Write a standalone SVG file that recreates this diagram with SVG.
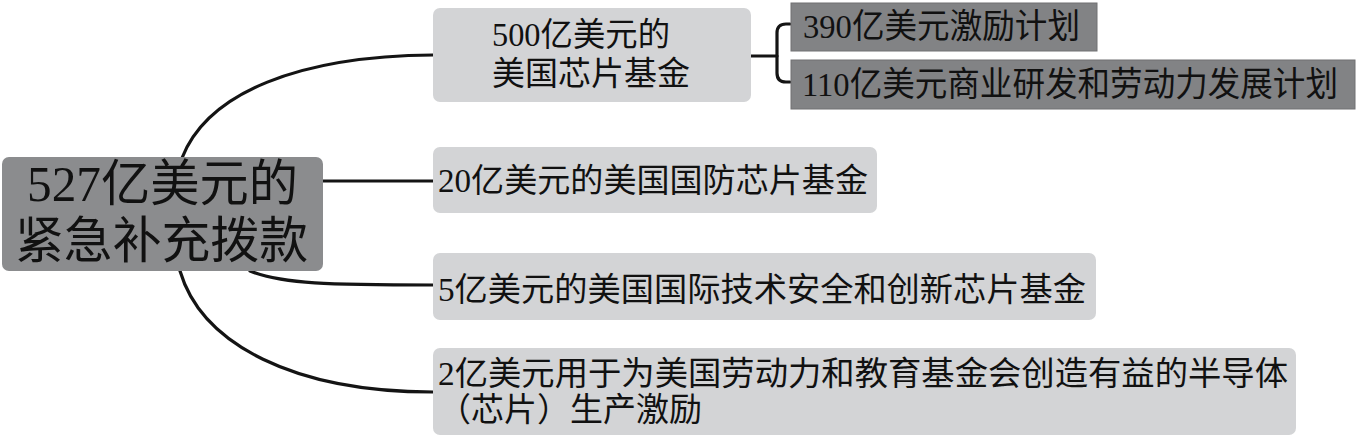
<svg xmlns="http://www.w3.org/2000/svg" width="1360" height="440" viewBox="0 0 1360 440">
  <style>
    .root { fill: #8b8c8e; }
    .light { fill: #d3d4d6; }
    .dark { fill: #828385; stroke: #707173; stroke-width: 1; }
    .t { font-family: "Liberation Serif", "Noto Sans CJK SC", serif; fill: #111111; }
    .t50 { font-size: 50px; }
    .t33 { font-size: 33px; }
    .t34 { font-size: 34px; }
    .conn { fill: none; stroke: #141414; stroke-width: 3.2; stroke-linecap: round; }
  </style>
  <rect width="1360" height="440" fill="#ffffff"/>

  <g id="connectors">
    <path class="conn" d="M182,158 C208,92 300,56 433,55"/>
    <path class="conn" d="M323,181 H433"/>
    <path class="conn" d="M250,271 C282,284 330,285 433,285"/>
    <path class="conn" d="M180,271 C202,345 295,392 433,392"/>
    <path class="conn" d="M751,56 H777"/>
    <path class="conn" d="M790,24 H786 Q777,24 777,33 V73 Q777,82 786,82 H790"/>
  </g>

  <g id="node-root">
    <rect class="root" x="2" y="157" width="321" height="114" rx="7"/>
    <text class="t t50" x="27" y="201" textLength="271" lengthAdjust="spacingAndGlyphs">527亿美元的</text>
    <text class="t t50" x="15" y="258" textLength="293" lengthAdjust="spacingAndGlyphs">紧急补充拨款</text>
  </g>

  <g id="node-chip-fund">
    <rect class="light" x="433" y="8" width="318" height="94" rx="7"/>
    <text class="t t33" x="492" y="46" textLength="178" lengthAdjust="spacingAndGlyphs">500亿美元的</text>
    <text class="t t33" x="492" y="85" textLength="198" lengthAdjust="spacingAndGlyphs">美国芯片基金</text>
  </g>

  <g id="node-incentive">
    <rect class="dark" x="791" y="3" width="306" height="48"/>
    <text class="t t34" x="803" y="38" textLength="277" lengthAdjust="spacingAndGlyphs">390亿美元激励计划</text>
  </g>

  <g id="node-rd">
    <rect class="dark" x="791" y="60" width="564" height="49"/>
    <text class="t t34" x="802" y="96" textLength="536" lengthAdjust="spacingAndGlyphs">110亿美元商业研发和劳动力发展计划</text>
  </g>

  <g id="node-defense">
    <rect class="light" x="433" y="147" width="444" height="66" rx="7"/>
    <text class="t t33" x="438" y="192" textLength="430" lengthAdjust="spacingAndGlyphs">20亿美元的美国国防芯片基金</text>
  </g>

  <g id="node-intl">
    <rect class="light" x="433" y="253" width="663" height="67" rx="7"/>
    <text class="t t33" x="438" y="301" textLength="648" lengthAdjust="spacingAndGlyphs">5亿美元的美国国际技术安全和创新芯片基金</text>
  </g>

  <g id="node-workforce">
    <rect class="light" x="433" y="348" width="863" height="87" rx="7"/>
    <text class="t t33" x="438" y="385" textLength="850" lengthAdjust="spacingAndGlyphs">2亿美元用于为美国劳动力和教育基金会创造有益的半导体</text>
    <text class="t t33" x="438" y="421">（芯片）生产激励</text>
  </g>
</svg>
